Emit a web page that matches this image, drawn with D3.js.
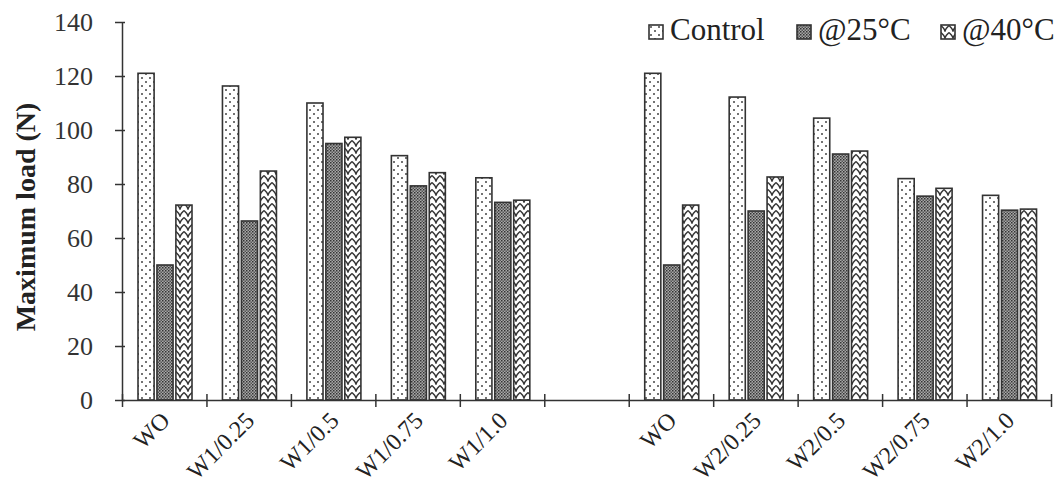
<!DOCTYPE html>
<meta charset="utf-8">
<style>
body { margin: 0; background: #fff; }
text { font-family: "Liberation Serif", "Times New Roman", serif; fill: #222; }
.axis path, .axis line { stroke: #333; stroke-width: 1.5px; }
.axis text { font-size: 26px; fill: #333; font-family: "Liberation Serif", serif; }
.bar { stroke: #333; stroke-width: 1.6px; }
</style>
<body>
<script src="https://d3js.org/d3.v7.min.js"></script>
<script>

// data
var categories = ["WO", "W1/0.25", "W1/0.5", "W1/0.75", "W1/1.0", "",
                  "WO", "W2/0.25", "W2/0.5", "W2/0.75", "W2/1.0"];
var control = [121, 116.3, 110, 90.5, 82.3, null, 121, 112.2, 104.4, 82, 75.8];
var at25    = [50, 66.3, 95, 79.3, 73.2, null, 50, 70, 91.1, 75.5, 70.3];
var at40    = [72.2, 84.8, 97.3, 84.2, 74, null, 72.2, 82.6, 92.2, 78.4, 70.7];
var seriesNames = ["Control", "@25°C", "@40°C"];
var yTicks = [0, 20, 40, 60, 80, 100, 120, 140];

var W = 1064, H = 488;
var svg = d3.select("body").append("svg")
    .attr("width", W).attr("height", H);

// patterns
var defs = svg.append("defs");

var p1 = defs.append("pattern").attr("id", "pCtrl")
    .attr("patternUnits", "userSpaceOnUse").attr("width", 8).attr("height", 8);
p1.append("rect").attr("width", 8).attr("height", 8).attr("fill", "#fff");
p1.append("circle").attr("cx", 2).attr("cy", 2).attr("r", 1).attr("fill", "#444");
p1.append("circle").attr("cx", 6).attr("cy", 6).attr("r", 1).attr("fill", "#444");

var p2 = defs.append("pattern").attr("id", "p25")
    .attr("patternUnits", "userSpaceOnUse").attr("width", 3).attr("height", 3);
p2.append("rect").attr("width", 3).attr("height", 3).attr("fill", "#a8a8a8");
p2.append("rect").attr("width", 1.5).attr("height", 1.5).attr("fill", "#333");
p2.append("rect").attr("x", 1.5).attr("y", 1.5).attr("width", 1.5).attr("height", 1.5).attr("fill", "#555");

var p3 = defs.append("pattern").attr("id", "p40")
    .attr("patternUnits", "userSpaceOnUse").attr("width", 8).attr("height", 7);
p3.append("rect").attr("width", 8).attr("height", 7).attr("fill", "#fff");
p3.append("path").attr("d", "M0,0.5 Q3,3 4,6 Q5,3 8,0.5").attr("fill", "none")
    .attr("stroke", "#333").attr("stroke-width", 1.4);

var fills = ["url(#pCtrl)", "url(#p25)", "url(#p40)"];

// scales
var x = d3.scaleBand().domain(d3.range(categories.length)).range([122, 1051]).padding(0);
var xSub = d3.scaleBand().domain([0, 1, 2]).range([16, 70]).paddingInner(0.15);
var y = d3.scaleLinear().domain([0, 140]).range([400, 22]);

// bars
var rows = [];
categories.forEach(function(c, i) {
  [control, at25, at40].forEach(function(s, j) {
    if (s[i] != null) rows.push({i: i, s: j, v: s[i]});
  });
});

svg.selectAll(".bar").data(rows).enter().append("rect")
    .attr("class", "bar")
    .attr("x", function(d) { return x(d.i) + xSub(d.s); })
    .attr("width", xSub.bandwidth())
    .attr("y", function(d) { return y(d.v); })
    .attr("height", function(d) { return y(0) - y(d.v); })
    .attr("fill", function(d) { return fills[d.s]; });

// y axis
var yAxis = svg.append("g").attr("class", "axis")
    .attr("transform", "translate(122,0)")
    .call(d3.axisLeft(y).tickValues(yTicks).tickSize(7).tickSizeOuter(0).tickPadding(22));
yAxis.selectAll(".tick line").attr("x2", -7).attr("x1", 3);

// x axis: ticks at band boundaries
var xb = d3.scaleLinear().domain([0, categories.length]).range([122, 1051]);
var xAxis = svg.append("g").attr("class", "axis")
    .attr("transform", "translate(0,400)")
    .call(d3.axisBottom(xb).ticks(categories.length).tickSize(7).tickSizeOuter(0).tickFormat(""));
xAxis.selectAll(".tick line").attr("y1", -6).attr("y2", 7);

// slanted category labels
svg.append("g").selectAll("text").data(categories).enter().append("text")
    .attr("transform", function(d, i) {
      return "translate(" + (x(i) + x.bandwidth() / 2 + 7) + ",422) rotate(-45)";
    })
    .attr("text-anchor", "end")
    .attr("font-size", 24)
    .attr("fill", "#333")
    .text(function(d) { return d; });

// y title
svg.append("text")
    .attr("transform", "translate(35,217) rotate(-90)")
    .attr("text-anchor", "middle")
    .attr("font-size", 28)
    .attr("font-weight", "bold")
    .text("Maximum load (N)");

// legend
var legX = [649, 797, 941];
var leg = svg.append("g").selectAll("g").data(seriesNames).enter().append("g")
    .attr("transform", function(d, i) { return "translate(" + legX[i] + ",25)"; });
leg.append("rect").attr("class", "bar").attr("width", 14).attr("height", 14)
    .attr("fill", function(d, i) { return fills[i]; });
leg.append("text").attr("x", 21).attr("y", 15)
    .attr("font-size", 31)
    .text(function(d) { return d; });

</script>
</body>
